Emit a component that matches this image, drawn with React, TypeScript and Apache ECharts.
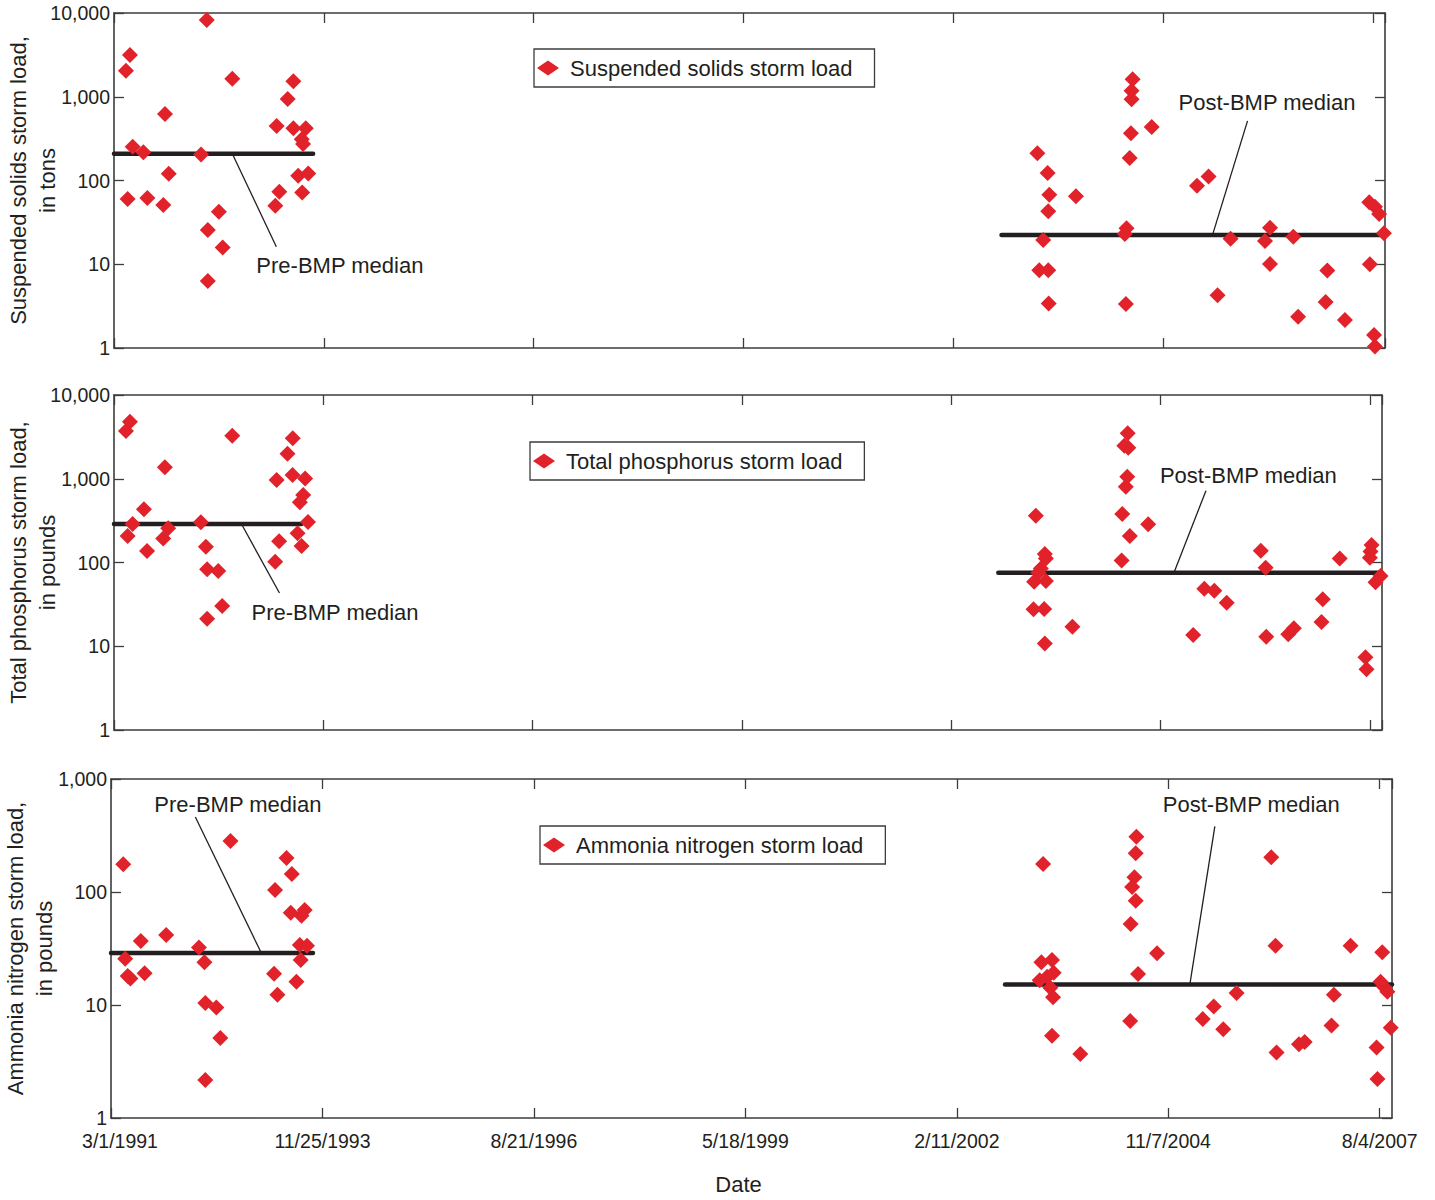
import React, { useEffect, useRef } from 'react';
import * as echarts from 'echarts';

// Time axis is measured in days from 3/1/1991, with a tick every 1000 days.
const ORIGIN = Date.UTC(1991, 2, 1);
const MS_PER_DAY = 86400000;
const TICK_STEP_DAYS = 1000;
const AXIS_END_DATE = '2007-10-01';

const dayOf = (iso: string) => Math.round((Date.parse(iso) - ORIGIN) / MS_PER_DAY);
const dateLabel = (day: number) => {
  const d = new Date(ORIGIN + day * MS_PER_DAY);
  return `${d.getUTCMonth() + 1}/${d.getUTCDate()}/${d.getUTCFullYear()}`;
};

// Storm loads: [storm date, load]
const suspendedSolidsTons: [string, number][] = [
  ['1991-04-27', 2050], ['1991-05-16', 3150], ['1991-05-05', 60], ['1991-05-29', 253],
  ['1991-07-19', 217], ['1991-08-07', 62], ['1991-10-30', 622], ['1991-10-22', 51],
  ['1991-11-17', 120], ['1992-04-19', 205], ['1992-05-16', 8250], ['1992-05-21', 25.6],
  ['1992-05-21', 6.3], ['1992-07-13', 42.4], ['1992-07-31', 15.8], ['1992-09-15', 1640],
  ['1993-04-14', 448], ['1993-04-08', 50], ['1993-04-27', 73.5], ['1993-06-06', 940],
  ['1993-07-03', 1530], ['1993-07-03', 420], ['1993-08-31', 420], ['1993-08-12', 310],
  ['1993-08-18', 273], ['1993-07-26', 114], ['1993-09-12', 121], ['1993-08-14', 72],
  ['2003-03-19', 211], ['2003-05-07', 123], ['2003-05-15', 67.7], ['2003-05-10', 42.9],
  ['2003-04-16', 19.5], ['2003-03-28', 8.5], ['2003-05-10', 8.5], ['2003-05-12', 3.4],
  ['2003-09-19', 64.8], ['2004-06-15', 1615], ['2004-06-10', 1181], ['2004-06-10', 933],
  ['2004-06-07', 366], ['2004-06-01', 186], ['2004-05-17', 26.9], ['2004-05-09', 23],
  ['2004-05-14', 3.35], ['2004-09-14', 435], ['2005-04-18', 86.7], ['2005-06-12', 112],
  ['2005-07-25', 4.26], ['2005-09-25', 20.2], ['2006-03-08', 19], ['2006-04-01', 27.3],
  ['2006-04-01', 10.1], ['2006-07-21', 21.3], ['2006-08-13', 2.36], ['2006-12-30', 8.4],
  ['2006-12-22', 3.54], ['2007-03-24', 2.16], ['2007-07-18', 55], ['2007-08-14', 48.7],
  ['2007-09-03', 39.8], ['2007-09-26', 23.4], ['2007-07-21', 10], ['2007-08-10', 1.43],
  ['2007-08-14', 1.04],
];

const totalPhosphorusPounds: [string, number][] = [
  ['1991-04-27', 3720], ['1991-05-16', 4800], ['1991-05-05', 207], ['1991-05-29', 288],
  ['1991-07-22', 432], ['1991-08-06', 137], ['1991-10-30', 1370], ['1991-10-22', 194],
  ['1991-11-15', 256], ['1992-04-19', 302], ['1992-05-13', 154], ['1992-05-19', 83],
  ['1992-05-19', 21.3], ['1992-07-11', 79], ['1992-07-30', 30.3], ['1992-09-16', 3270],
  ['1993-04-16', 966], ['1993-04-09', 102], ['1993-04-28', 179], ['1993-06-07', 1990],
  ['1993-07-02', 3040], ['1993-07-01', 1110], ['1993-08-30', 1010], ['1993-08-21', 640],
  ['1993-08-05', 523], ['1993-07-25', 223], ['1993-08-13', 157], ['1993-09-13', 305],
  ['2003-03-22', 362], ['2003-05-04', 126], ['2003-05-09', 112], ['2003-04-15', 85],
  ['2003-04-03', 75.5], ['2003-03-14', 59], ['2003-05-09', 60], ['2003-03-11', 27.6],
  ['2003-05-01', 27.8], ['2003-05-04', 10.8], ['2003-09-13', 17.1], ['2004-06-03', 3490],
  ['2004-05-18', 2480], ['2004-06-06', 2350], ['2004-06-01', 1057], ['2004-05-25', 804],
  ['2004-05-08', 379], ['2004-06-13', 207], ['2004-05-05', 106], ['2004-09-09', 286],
  ['2005-04-12', 13.6], ['2005-06-04', 48.7], ['2005-07-22', 46], ['2005-09-19', 33.1],
  ['2006-03-01', 138], ['2006-03-24', 86.7], ['2006-03-27', 13], ['2006-07-10', 13.9],
  ['2006-08-06', 16.4], ['2006-12-22', 36.4], ['2006-12-16', 19.5], ['2007-03-13', 112],
  ['2007-08-12', 162], ['2007-08-07', 135], ['2007-08-04', 114], ['2007-09-24', 69],
  ['2007-08-31', 58], ['2007-07-14', 7.4], ['2007-07-19', 5.3],
];

const ammoniaNitrogenPounds: [string, number][] = [
  ['1991-04-28', 176], ['1991-05-07', 25.7], ['1991-05-19', 18.1], ['1991-06-01', 17.2],
  ['1991-07-20', 36.9], ['1991-08-07', 19.1], ['1991-11-17', 41.6], ['1992-04-20', 32.2],
  ['1992-05-16', 23.9], ['1992-05-20', 10.4], ['1992-07-11', 9.5], ['1992-07-30', 5.1],
  ['1992-05-20', 2.17], ['1992-09-16', 283], ['1993-04-15', 104], ['1993-04-10', 18.9],
  ['1993-04-26', 12.3], ['1993-06-08', 200], ['1993-07-03', 144], ['1993-06-28', 65.6],
  ['1993-08-18', 61.7], ['1993-09-02', 69.3], ['1993-08-10', 34], ['1993-09-13', 33.5],
  ['1993-08-14', 25], ['1993-07-25', 16.1],
  ['2003-03-26', 177], ['2003-03-18', 23.9], ['2003-05-07', 25], ['2003-05-15', 19.3],
  ['2003-04-14', 17.8], ['2003-03-10', 16.6], ['2003-04-29', 14.2], ['2003-05-12', 11.7],
  ['2003-05-07', 5.35], ['2003-09-18', 3.68], ['2004-06-09', 309], ['2004-06-06', 220],
  ['2004-05-31', 135], ['2004-05-20', 111], ['2004-06-06', 83.8], ['2004-05-13', 52],
  ['2004-06-17', 18.8], ['2004-05-11', 7.2], ['2004-09-15', 28.7], ['2005-04-19', 7.5],
  ['2005-06-10', 9.7], ['2005-07-25', 6.1], ['2005-09-26', 12.8], ['2006-03-09', 203],
  ['2006-03-29', 33.5], ['2006-04-03', 3.8], ['2006-07-18', 4.5], ['2006-08-14', 4.7],
  ['2006-12-30', 12.3], ['2006-12-19', 6.6], ['2007-03-19', 33.5], ['2007-08-16', 29.3],
  ['2007-08-08', 16.1], ['2007-08-24', 14.5], ['2007-09-09', 13.1], ['2007-09-25', 6.3],
  ['2007-07-20', 4.2], ['2007-07-24', 2.21],
];

// Pre-BMP and post-BMP medians, and the periods each median covers
const suspendedSolidsMedians = [209, 22.4];
const totalPhosphorusMedians = [288, 75.5];
const ammoniaNitrogenMedians = [28.8, 15.2];

const suspendedSolidsPeriods = [['1991-03-01', '1993-10-05'], ['2002-09-29', AXIS_END_DATE]];
const totalPhosphorusPeriods = [['1991-03-01', '1993-08-13'], ['2002-09-24', AXIS_END_DATE]];
const ammoniaNitrogenPeriods = [['1991-03-01', '1993-10-11'], ['2002-09-27', AXIS_END_DATE]];

const medianLabels = ['Pre-BMP median', 'Post-BMP median'];

const RED = '#e1222a';
const INK = '#231f20';
const AXIS_COLOR = '#3c3c3c';
const FONT = "'Liberation Sans', Arial, sans-serif";
const TICK_FONT_SIZE = 19.5;

type Note = { at: string; leader: [number, number]; text: [number, number] };

const panels = [
  {
    name: 'Suspended solids storm load',
    yTitle: 'Suspended solids storm load,\nin tons',
    yMax: 10000,
    points: suspendedSolidsTons,
    medians: suspendedSolidsMedians,
    periods: suspendedSolidsPeriods,
    grid: { left: 114, top: 13, width: 1271, height: 335 },
    legendAt: { left: 534, top: 49 },
    notes: [
      { at: '1992-09-15', leader: [44, 93], text: [-20, 19] },
      { at: '2005-07-01', leader: [35, -114], text: [-69, -18] },
    ] as Note[],
  },
  {
    name: 'Total phosphorus storm load',
    yTitle: 'Total phosphorus storm load,\nin pounds',
    yMax: 10000,
    points: totalPhosphorusPounds,
    medians: totalPhosphorusMedians,
    periods: totalPhosphorusPeriods,
    grid: { left: 114, top: 395, width: 1268, height: 335 },
    legendAt: { left: 530, top: 442 },
    notes: [
      { at: '1992-10-30', leader: [38, 69], text: [-28, 19] },
      { at: '2005-01-10', leader: [32, -82], text: [-46, -15] },
    ] as Note[],
  },
  {
    name: 'Ammonia nitrogen storm load',
    yTitle: 'Ammonia nitrogen storm load,\nin pounds',
    yMax: 1000,
    points: ammoniaNitrogenPounds,
    medians: ammoniaNitrogenMedians,
    periods: ammoniaNitrogenPeriods,
    grid: { left: 111, top: 779, width: 1281, height: 339 },
    legendAt: { left: 540, top: 826 },
    notes: [
      { at: '1993-02-09', leader: [-66, -136], text: [-41, -13] },
      { at: '2005-02-17', leader: [25, -158], text: [-52, -22] },
    ] as Note[],
  },
];

const tickStyle = { show: true, inside: true, length: 10, lineStyle: { color: AXIS_COLOR, width: 1.3 } };
const lineStyle = { show: true, onZero: false, lineStyle: { color: AXIS_COLOR, width: 1.6 } };

function buildOption() {
  const last = panels.length - 1;
  const xAxis: any[] = [];
  const yAxis: any[] = [];
  const series: any[] = [];
  const scatterIndex: number[] = [];

  panels.forEach((p, i) => {
    const xBase = {
      type: 'value',
      gridIndex: i,
      min: 0,
      max: dayOf(AXIS_END_DATE),
      interval: TICK_STEP_DAYS,
      splitLine: { show: false },
      axisLine: lineStyle,
      axisTick: tickStyle,
    };
    xAxis.push({
      ...xBase,
      position: 'bottom',
      axisLabel:
        i === last
          ? {
              show: true,
              showMaxLabel: false,
              margin: 13,
              fontSize: TICK_FONT_SIZE,
              fontFamily: FONT,
              color: INK,
              formatter: (v: number) => {
                if (v % TICK_STEP_DAYS !== 0) return '';
                return v === 0 ? `{first|${dateLabel(v)}}` : dateLabel(v);
              },
              rich: {
                first: { padding: [0, 0, 0, 18], fontSize: TICK_FONT_SIZE, fontFamily: FONT, color: INK },
              },
            }
          : { show: false },
      name: i === last ? 'Date' : '',
      nameLocation: 'middle',
      nameGap: 55,
      nameMoveOverlap: false,
      nameTextStyle: { fontSize: 22, fontFamily: FONT, color: INK, padding: [0, 26, 0, 0] },
    });
    xAxis.push({ ...xBase, position: 'top', axisLabel: { show: false } });

    const yBase = {
      type: 'log',
      logBase: 10,
      gridIndex: i,
      min: 1,
      max: p.yMax,
      splitLine: { show: false },
      minorTick: { show: false },
      axisLine: lineStyle,
      axisTick: tickStyle,
    };
    yAxis.push({
      ...yBase,
      position: 'left',
      axisLabel: {
        margin: 4,
        fontSize: TICK_FONT_SIZE,
        fontFamily: FONT,
        color: INK,
        formatter: (v: number) => Number(v).toLocaleString('en-US'),
      },
      name: p.yTitle,
      nameLocation: 'middle',
      nameRotate: 90,
      nameGap: 52,
      nameMoveOverlap: false,
      nameTextStyle: { fontSize: 22, lineHeight: 29, fontFamily: FONT, color: INK },
    });
    yAxis.push({ ...yBase, position: 'right', axisLabel: { show: false } });

    p.periods.forEach((span, k) => {
      series.push({
        type: 'line',
        xAxisIndex: 2 * i,
        yAxisIndex: 2 * i,
        silent: true,
        symbol: 'none',
        z: 2,
        lineStyle: { color: INK, width: 4.5, cap: 'round' },
        data: span.map((s) => [dayOf(s), p.medians[k]]),
      });
    });

    scatterIndex.push(series.length);
    series.push({
      type: 'scatter',
      name: p.name,
      xAxisIndex: 2 * i,
      yAxisIndex: 2 * i,
      symbol: 'diamond',
      symbolSize: 16,
      clip: false,
      z: 3,
      itemStyle: { color: RED, opacity: 1 },
      data: p.points.map(([d, v]) => [dayOf(d), v]),
    });
  });

  const option = {
    animation: false,
    backgroundColor: '#ffffff',
    grid: panels.map((p) => ({ ...p.grid, containLabel: false, outerBoundsMode: 'none' })),
    legend: panels.map((p) => ({
      data: [p.name],
      left: p.legendAt.left,
      top: p.legendAt.top,
      selectedMode: false,
      itemWidth: 22,
      itemHeight: 15,
      padding: [8, 22, 8, 3],
      borderColor: AXIS_COLOR,
      borderWidth: 1.3,
      itemStyle: { opacity: 1 },
      textStyle: { fontSize: 22, fontFamily: FONT, color: INK, padding: [0, 0, 0, 6] },
    })),
    xAxis,
    yAxis,
    series,
  };
  return { option, scatterIndex };
}

export default function App() {
  const ref = useRef<HTMLDivElement>(null);

  useEffect(() => {
    if (!ref.current) return;
    const chart = echarts.init(ref.current, null, { renderer: 'svg' });
    const { option, scatterIndex } = buildOption();
    chart.setOption(option);

    // Median call-outs: a leader line from each median bar to its label
    const graphic: any[] = [];
    panels.forEach((p, i) => {
      p.notes.forEach((n, k) => {
        const [sx, sy] = chart.convertToPixel({ seriesIndex: scatterIndex[i] }, [dayOf(n.at), p.medians[k]]) as number[];
        const ex = sx + n.leader[0];
        const ey = sy + n.leader[1];
        graphic.push({
          type: 'line',
          silent: true,
          shape: { x1: sx, y1: sy, x2: ex, y2: ey },
          style: { stroke: INK, lineWidth: 1.3 },
          z: 10,
        });
        graphic.push({
          type: 'text',
          silent: true,
          x: ex + n.text[0],
          y: ey + n.text[1],
          style: {
            text: medianLabels[k],
            fontSize: 22,
            fontFamily: FONT,
            fill: INK,
            align: 'left',
            verticalAlign: 'middle',
          },
          z: 10,
        });
      });
    });
    chart.setOption({ graphic });

    return () => chart.dispose();
  }, []);

  return (
    <div
      ref={ref}
      style={{ position: 'absolute', left: 0, top: 0, width: 1435, height: 1200, background: '#ffffff' }}
    />
  );
}
